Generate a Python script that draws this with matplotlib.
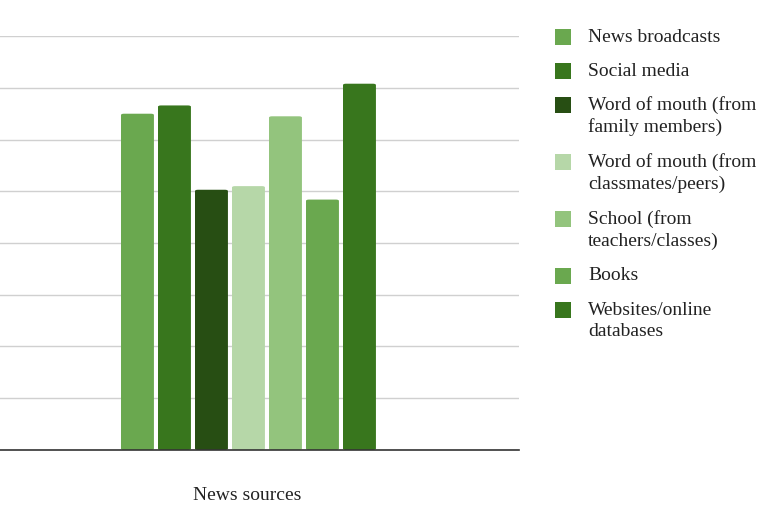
import numpy as np
import matplotlib.pyplot as plt
from matplotlib.patches import Rectangle, FancyBboxPatch

plt.rcParams['font.family'] = ['Liberation Serif', 'DejaVu Serif']

# values (grid units, no labels shown)
sources = ["News broadcasts", "Social media", "Word of mouth (from\nfamily members)",
           "Word of mouth (from\nclassmates/peers)", "School (from\nteachers/classes)",
           "Books", "Websites/online\ndatabases"]
values = [6.5, 6.66, 5.03, 5.1, 6.45, 4.84, 7.08]
colors = ["#6aa84f", "#38761d", "#274e13", "#b6d7a8", "#93c47d", "#6aa84f", "#38761d"]

fig = plt.figure(figsize=(7.75, 5.16), dpi=100)
ax = fig.add_axes([-0.0284, 0.128, 0.698, 0.802])

x = np.arange(len(values))
bars = ax.bar(x, values, width=0.89, color=colors, zorder=3)
# swap plain bars for slightly rounded ones
for b in bars:
    b.set_visible(False)
    ax.add_patch(FancyBboxPatch((b.get_x(), 0), b.get_width(), b.get_height(),
                                boxstyle="round,pad=0,rounding_size=0.08",
                                mutation_aspect=0.3,
                                facecolor=b.get_facecolor(), edgecolor='none', zorder=3))

ax.set_xlim(-4.31, 10.31)
ax.set_ylim(0, 8)
ax.set_yticks(np.arange(0, 9, 1))
ax.yaxis.grid(True, color='#d0d0d0', linewidth=1, zorder=0)
ax.set_xticks([])
ax.tick_params(left=False, labelleft=False)
for s in ['top', 'right', 'left']:
    ax.spines[s].set_visible(False)
ax.spines['bottom'].set_color('#333333')
ax.spines['bottom'].set_linewidth(1.2)
ax.spines['bottom'].set_zorder(4)

fig.text(247 / 775, 1 - 496 / 516, "News sources", ha='center', va='center',
         fontsize=14, color='#222222')

# legend drawn by hand to match spacing
y = 37
for label, c in zip(sources, colors):
    fig.patches.append(Rectangle((555 / 775, 1 - (y + 8) / 516), 16 / 775, 16 / 516,
                                 transform=fig.transFigure, facecolor=c, edgecolor='none'))
    nlines = label.count('\n') + 1
    fig.text(588 / 775, 1 - (y + 11 * (nlines - 1)) / 516, label, ha='left', va='center',
             fontsize=14, color='#222222', linespacing=1.35)
    y += 34 if nlines == 1 else 57

fig.savefig("out.png", dpi=100)
